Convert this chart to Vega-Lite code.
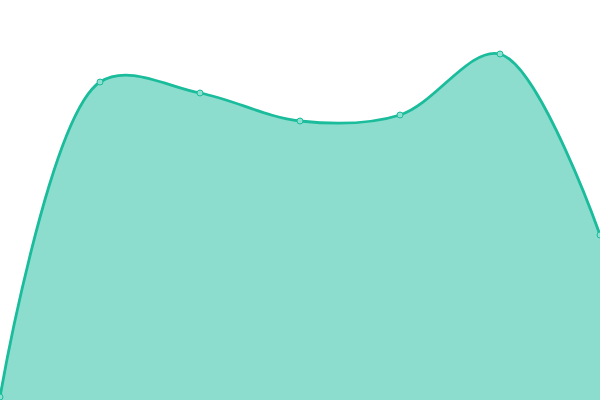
{
  "$schema": "https://vega.github.io/schema/vega-lite/v6.json",
  "width": 600,
  "height": 400,
  "padding": 0,
  "autosize": {"type": "none"},
  "config": {"view": {"stroke": null}},
  "data": {
    "values": [
      {"x": 0, "y": 3},
      {"x": 1, "y": 318},
      {"x": 2, "y": 307},
      {"x": 3, "y": 279},
      {"x": 4, "y": 285},
      {"x": 5, "y": 346},
      {"x": 6, "y": 165}
    ]
  },
  "encoding": {
    "x": {"field": "x", "type": "quantitative", "scale": {"domain": [0, 6], "nice": false, "zero": false}, "axis": null},
    "y": {"field": "y", "type": "quantitative", "scale": {"domain": [0, 400], "nice": false}, "axis": null}
  },
  "layer": [
    {"mark": {"type": "area", "interpolate": "catmull-rom", "color": "#1abc9c", "opacity": 0.5}},
    {"mark": {"type": "line", "interpolate": "catmull-rom", "color": "#1abc9c", "strokeWidth": 2.8}},
    {"mark": {"type": "point", "filled": true, "size": 36, "fill": "#8ce0cf", "stroke": "#1abc9c", "strokeWidth": 1, "opacity": 1}}
  ]
}
